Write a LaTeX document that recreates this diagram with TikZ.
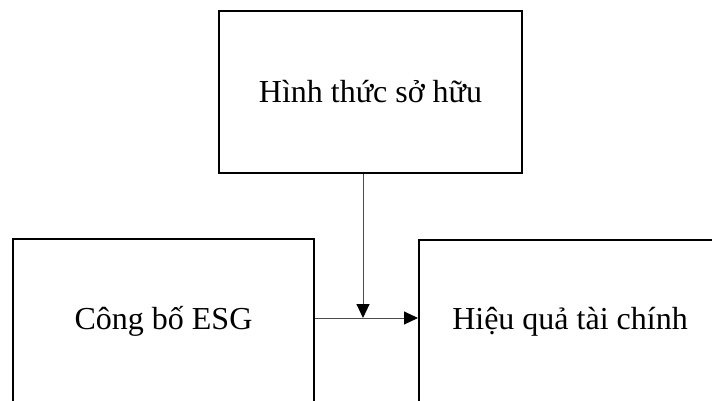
\documentclass[tikz,border=0pt]{standalone}
\usepackage{fontspec}
\setmainfont{Liberation Serif}
\usetikzlibrary{arrows.meta}
\begin{document}
\begin{tikzpicture}[x=1pt,y=-1pt,
  box/.style={draw=black,line width=2pt,fill=white,inner sep=0pt,
    font=\fontsize{32}{38}\selectfont},
  link/.style={draw=black!70,line width=1pt,
    -{Triangle[length=14pt,width=13pt,fill=black,color=black]}}]
\useasboundingbox (0,0) rectangle (712,401);
\clip (0,0) rectangle (712,401);
% three variable boxes
\node[box,minimum width=303pt,minimum height=162pt] (own) at (370.5,92) {Hình thức sở hữu};
\node[box,minimum width=301pt,minimum height=164pt] (esg) at (163.5,321) {Công bố ESG};
\node[box,minimum width=302pt,minimum height=164pt] (perf) at (570,322) {Hiệu quả tài chính};
% direct effect and moderating effect
\draw[link] (esg.east |- 0,318) coordinate (h) -- (perf.west |- h);
\coordinate (m) at (363,318);
\draw[link] (own.south -| m) -- (m);
\end{tikzpicture}
\end{document}
